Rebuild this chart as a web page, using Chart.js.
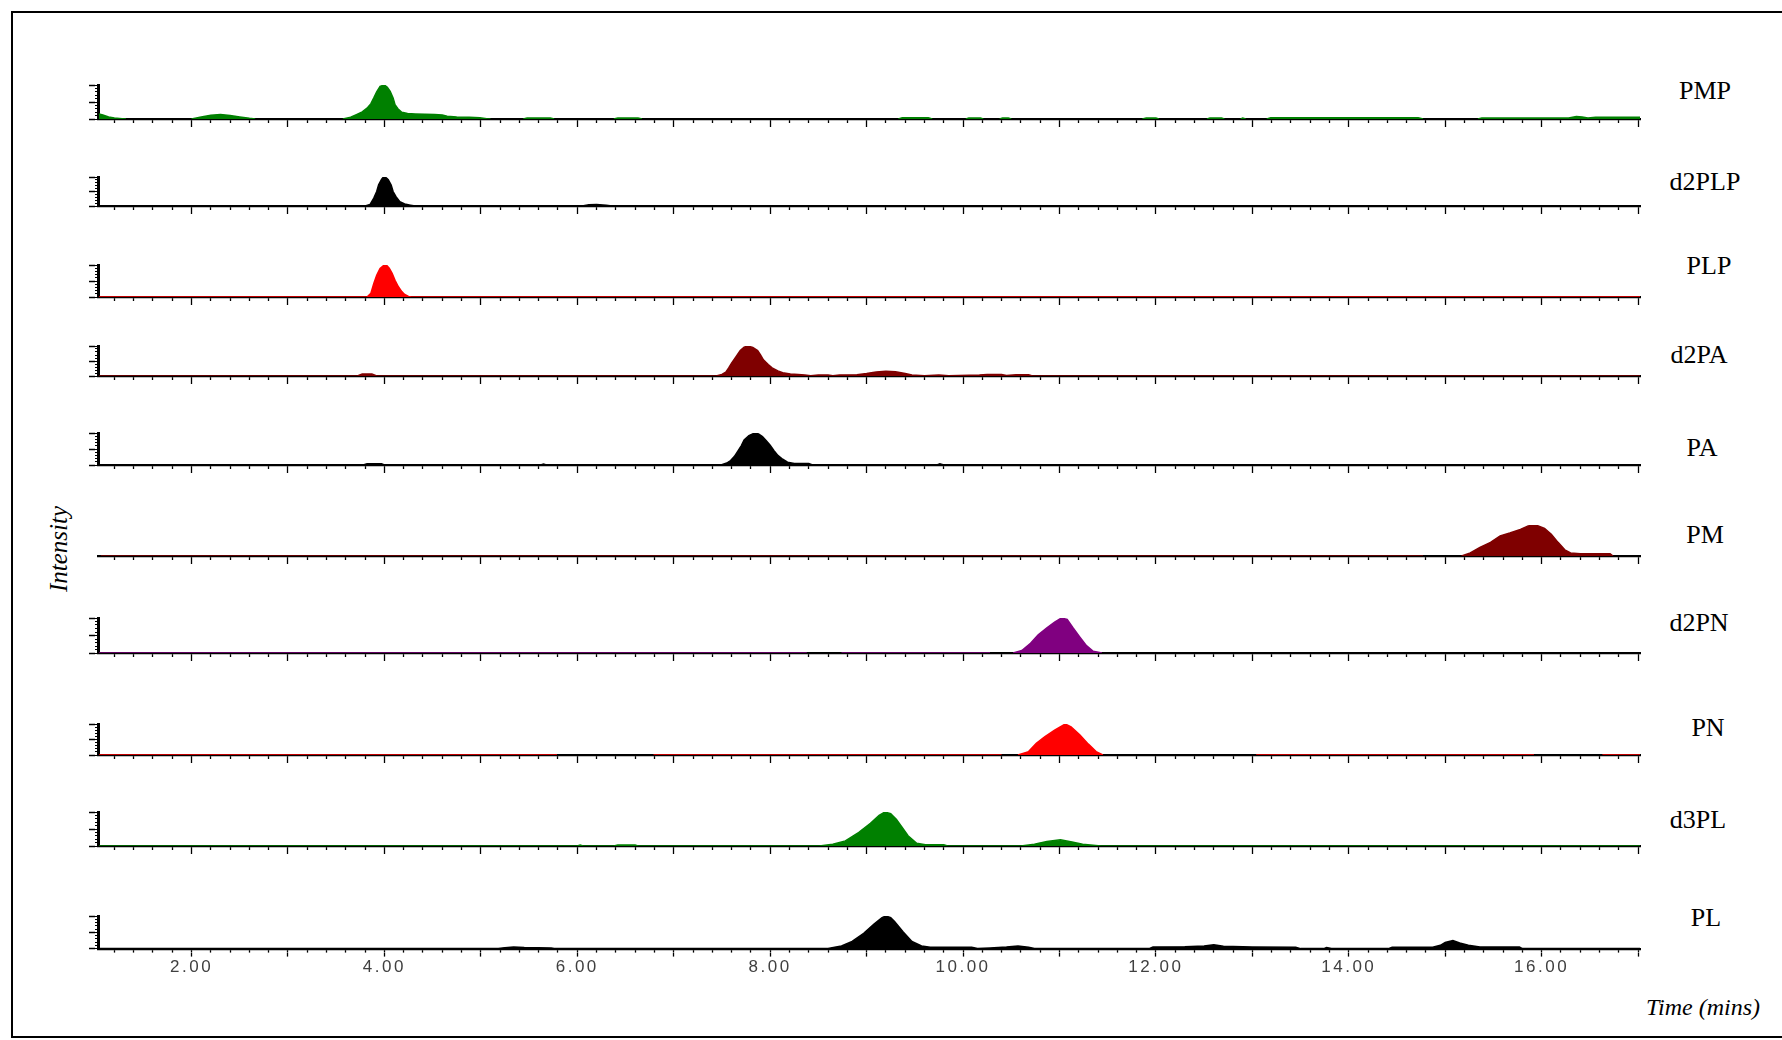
<!DOCTYPE html>
<html lang="en">
<head>
<meta charset="UTF-8">
<title>Chromatograms</title>
<script src="https://cdn.jsdelivr.net/npm/chart.js"></script>
<style>
  html, body { margin: 0; padding: 0; background: #fff; overflow: hidden; }
  #page { position: relative; width: 1782px; height: 1040px; overflow: hidden; }
  .rule { position: absolute; background: #000; }
  .panel { position: absolute; }
  .name { position: absolute; font-family: 'Liberation Serif', 'Times New Roman', serif; font-size: 26px; color: #000; transform: translate(-50%, -50%); white-space: nowrap; }
  .axis-title { position: absolute; font-family: 'Liberation Serif', 'Times New Roman', serif; font-style: italic; color: #000; white-space: nowrap; transform: translate(-50%, -50%); }
</style>
</head>
<body>
<div id="page">
  <!-- open frame: top, left and bottom rules only -->
  <div class="rule" style="left:11px; top:11px; width:1771px; height:2px;"></div>
  <div class="rule" style="left:11px; top:11px; width:2px; height:1027px;"></div>
  <div class="rule" style="left:11px; top:1036px; width:1771px; height:2px;"></div>
  <div class="axis-title" style="left:59px; top:549px; font-size:25px; transform:translate(-50%,-50%) rotate(-90deg);">Intensity</div>
  <div class="axis-title" style="left:1703px; top:1007px; font-size:24px;">Time (mins)</div>
</div>

<script>
// time axis range (minutes)
const X_MIN = 1.03;
const X_MAX = 17.02;

// [time, relative intensity]; null breaks the trace
const pmp = [[1.04,15],[1.08,12],[1.14,6],[1.2,3],[1.28,1],[1.32,0],[1.5,null],
  [2.0,0],[2.1,6],[2.2,11],[2.3,13],[2.4,10],[2.5,6],[2.6,2],[2.66,0],[2.8,null],
  [3.57,0],[3.65,5],[3.71,13],[3.77,21],[3.82,32],[3.86,45],[3.89,62],[3.92,80],[3.955,96],[4.0,100],[4.03,93],[4.06,81],[4.09,62],[4.11,42],[4.14,30],[4.18,20],[4.24,16],[4.32,15],[4.42,14],[4.52,13],[4.6,12],[4.65,8],[4.75,6],[4.88,5],[4.99,4],[5.06,1],[5.1,0],[5.3,null],
  [5.44,0],[5.48,3],[5.72,3],[5.76,0],[6.0,null],
  [6.38,0],[6.42,3],[6.63,3],[6.67,0],[7.0,null],
  [9.33,0],[9.37,4],[9.64,4],[9.68,0],[9.9,null],
  [10.03,0],[10.06,3],[10.18,3],[10.21,0],[10.3,null],
  [10.38,0],[10.41,3],[10.47,3],[10.5,0],[11.0,null],
  [11.86,0],[11.9,3],[12.0,3],[12.03,0],[12.3,null],
  [12.53,0],[12.56,3],[12.68,3],[12.71,0],[12.8,null],
  [12.88,0],[12.9,3],[12.93,0],[13.0,null],
  [13.15,0],[13.19,4],[14.72,4],[14.77,0],[15.0,null],
  [15.34,0],[15.38,3],[16.28,3],[16.36,7],[16.42,6],[16.48,3],[16.56,5],[17.02,5]];

const d2plp = [[1.04,0],[3.8,0],[3.85,5],[3.89,27],[3.92,50],[3.94,73],[3.97,92],[3.99,100],[4.02,97],[4.04,91],[4.07,72],[4.09,50],[4.12,32],[4.16,15],[4.21,7],[4.27,3],[4.32,0],
  [6.05,0],[6.12,4],[6.2,5],[6.3,3],[6.36,0],[17.02,0]];

const plp = [[1.04,0],[3.82,0],[3.86,12],[3.89,42],[3.92,68],[3.955,89],[3.99,98],[4.02,100],[4.05,90],[4.08,74],[4.11,52],[4.145,32],[4.18,17],[4.21,8],[4.25,2],[4.28,0],[17.02,0]];

const d2pa = [[1.04,0],[3.72,0],[3.77,7],[3.87,7],[3.92,0],[7.44,0],[7.5,5],[7.54,13],[7.57,27],[7.6,43],[7.65,66],[7.69,85],[7.73,96],[7.77,100],[7.82,95],[7.87,85],[7.9,70],[7.93,54],[7.98,38],[8.02,27],[8.08,17],[8.13,11],[8.21,7],[8.29,5],[8.36,3],[8.42,1],
  [8.5,3],[8.6,3],[8.65,1],[8.72,3],[8.9,4],[9.0,8],[9.1,13],[9.2,16],[9.3,14],[9.4,8],[9.47,3],[9.6,1],[9.75,3],[9.85,1],[10.17,3],[10.25,5],[10.4,5],[10.45,2],[10.55,4],[10.68,4],[10.72,0],[17.02,0]];

const pa = [[1.04,0],[3.78,0],[3.82,4],[3.97,4],[4.0,0],[5.62,0],[5.65,3],[5.68,0],
  [7.49,0],[7.55,6],[7.59,14],[7.63,27],[7.66,41],[7.7,60],[7.73,78],[7.78,92],[7.84,100],[7.88,97],[7.92,89],[7.96,76],[8.0,62],[8.04,45],[8.08,30],[8.13,18],[8.18,9],[8.25,5],[8.4,5],[8.44,0],
  [9.73,0],[9.76,4],[9.8,0],[17.02,0]];

const pm = [[1.06,0],[14.77,0],[14.8,null],[15.17,0],[15.26,10],[15.36,28],[15.47,44],[15.57,65],[15.67,74],[15.78,86],[15.86,97],[15.94,100],[16.03,89],[16.1,70],[16.17,44],[16.24,20],[16.3,10],[16.4,7],[16.71,7],[16.74,0]];

const d2pn = [[1.04,0],[8.38,0],[8.5,null],[8.74,0],[10.28,0],[10.4,null],
  [10.52,0],[10.61,7],[10.7,28],[10.78,52],[10.87,72],[10.95,88],[11.02,100],[11.08,96],[11.14,72],[11.21,46],[11.28,21],[11.35,5],[11.44,0]];

const pn = [[1.04,0],[5.79,0],[6.2,null],[6.79,0],[10.4,0],[10.5,null],
  [10.57,0],[10.68,11],[10.76,38],[10.85,59],[10.95,80],[11.06,100],[11.12,91],[11.21,65],[11.3,35],[11.38,11],[11.45,0],[12.0,null],
  [13.04,0],[15.92,0],[16.2,null],[16.63,0],[17.02,0]];

const d3pl = [[1.04,0],[6.0,0],[6.03,3],[6.06,0],[6.38,0],[6.42,3],[6.6,3],[6.63,0],
  [8.51,0],[8.65,5],[8.78,15],[8.92,40],[9.04,67],[9.13,90],[9.19,100],[9.25,95],[9.31,78],[9.36,58],[9.43,30],[9.52,8],[9.61,4],[9.8,4],[9.84,0],
  [10.6,0],[10.74,5],[10.87,13],[11.01,18],[11.13,12],[11.24,5],[11.43,0],[17.02,0]];

const pl = [[1.04,0],[5.18,0],[5.25,3],[5.34,5],[5.45,3],[5.73,2],[5.76,0],
  [8.6,0],[8.74,8],[8.85,22],[8.97,47],[9.08,76],[9.16,95],[9.2,100],[9.25,95],[9.29,83],[9.38,51],[9.47,22],[9.57,8],[9.66,4],[10.09,4],[10.15,0],
  [10.28,2],[10.45,5],[10.57,8],[10.68,4],[10.74,0],
  [11.93,0],[11.97,5],[12.3,6],[12.5,8],[12.6,12],[12.7,7],[13.0,5],[13.45,4],[13.5,0],[13.74,0],[13.77,3],[13.82,0],
  [14.41,0],[14.45,4],[14.87,4],[14.95,10],[15.0,19],[15.08,25],[15.15,17],[15.24,10],[15.36,5],[15.77,5],[15.8,0],[17.02,0]];

const compounds = ['PMP', 'd2PLP', 'PLP', 'd2PA', 'PA', 'PM', 'd2PN', 'PN', 'd3PL', 'PL'];
const traces = [pmp, d2plp, plp, d2pa, pa, pm, d2pn, pn, d3pl, pl];
const traceColors = ['#008000', '#000000', '#ff0000', '#7f0000', '#000000', '#7f0000', '#800080', '#ff0000', '#008000', '#000000'];
const hasIntensityBar = [true, true, true, true, true, false, true, true, true, true];

// layout (page pixels)
const plotLeft = 98;
const plotWidth = 1542;
const baselineY = [119, 206, 297, 376, 465, 556, 653, 755, 846, 949];
const barHeight = [34, 29, 32, 30, 32, 31, 35, 31, 34, 34];
const labelPos = [[1705, 91], [1705, 182], [1709, 266], [1699, 355], [1702, 448], [1705, 535], [1699, 623], [1708, 728], [1698, 820], [1706, 918]];

const page = document.getElementById('page');

const tickSpacing = {
  id: 'tickSpacing',
  beforeDraw(chart) { chart.ctx.letterSpacing = '2.5px'; }
};

compounds.forEach((name, i) => {
  const isLast = i === compounds.length - 1;
  const showBar = hasIntensityBar[i];
  const axesH = isLast ? 29 : 8;

  const canvas = document.createElement('canvas');
  canvas.className = 'panel';
  canvas.width = plotWidth + 9 + 4;
  canvas.height = 4 + barHeight[i] + axesH;
  canvas.style.width = canvas.width + 'px';
  canvas.style.height = canvas.height + 'px';
  page.appendChild(canvas);

  const chart = new Chart(canvas.getContext('2d'), {
    type: 'line',
    data: {
      datasets: [{
        data: traces[i].map(p => ({ x: p[0], y: p[1] })),
        borderColor: traceColors[i],
        backgroundColor: traceColors[i],
        borderWidth: 1.5,
        pointRadius: 0,
        fill: 'origin',
        tension: 0,
        spanGaps: false
      }]
    },
    options: {
      responsive: false,
      animation: false,
      events: [],
      layout: { padding: { top: 4, right: 4, bottom: 0, left: showBar ? 0 : 9 } },
      plugins: { legend: { display: false }, tooltip: { enabled: false } },
      scales: {
        x: {
          type: 'linear', axis: 'x', position: 'bottom', weight: 0,
          min: X_MIN, max: X_MAX,
          border: { display: true, color: '#000', width: 2.2 },
          grid: { drawOnChartArea: false, tickLength: 4, color: '#000', tickWidth: 1.3 },
          ticks: { display: false, stepSize: 0.2, autoSkip: false, includeBounds: false }
        },
        x2: {
          type: 'linear', axis: 'x', position: 'bottom', weight: 1,
          min: X_MIN, max: X_MAX,
          border: { display: false },
          grid: { drawOnChartArea: false, tickLength: 4, color: '#000', tickWidth: 1.3 },
          ticks: {
            display: isLast, stepSize: 1, autoSkip: false, includeBounds: false,
            padding: 1, maxRotation: 0, color: '#404040',
            font: { family: "'Liberation Sans', Arial, sans-serif", size: 17 },
            callback: v => (v % 2 === 0 ? v.toFixed(2) : '')
          }
        },
        y: {
          type: 'linear', axis: 'y', position: 'left', weight: 0,
          display: showBar, min: 0, max: 100,
          border: { display: true, color: '#000', width: 3 },
          grid: { drawOnChartArea: false, tickLength: 3, color: '#000', tickWidth: 1 },
          ticks: { display: false, stepSize: 10 }
        },
        y2: {
          type: 'linear', axis: 'y', position: 'left', weight: 1,
          display: showBar, min: 0, max: 100,
          border: { display: false },
          grid: { drawOnChartArea: false, tickLength: 6, color: '#000', tickWidth: 1.5 },
          ticks: { display: false, stepSize: 50 }
        }
      }
    },
    plugins: isLast ? [tickSpacing] : []
  });

  // place the canvas so its plot area sits on the panel's baseline
  canvas.style.left = (plotLeft - chart.chartArea.left) + 'px';
  canvas.style.top = (baselineY[i] - chart.chartArea.bottom) + 'px';

  const label = document.createElement('div');
  label.className = 'name';
  label.textContent = name;
  label.style.left = labelPos[i][0] + 'px';
  label.style.top = labelPos[i][1] + 'px';
  page.appendChild(label);
});
</script>
</body>
</html>
